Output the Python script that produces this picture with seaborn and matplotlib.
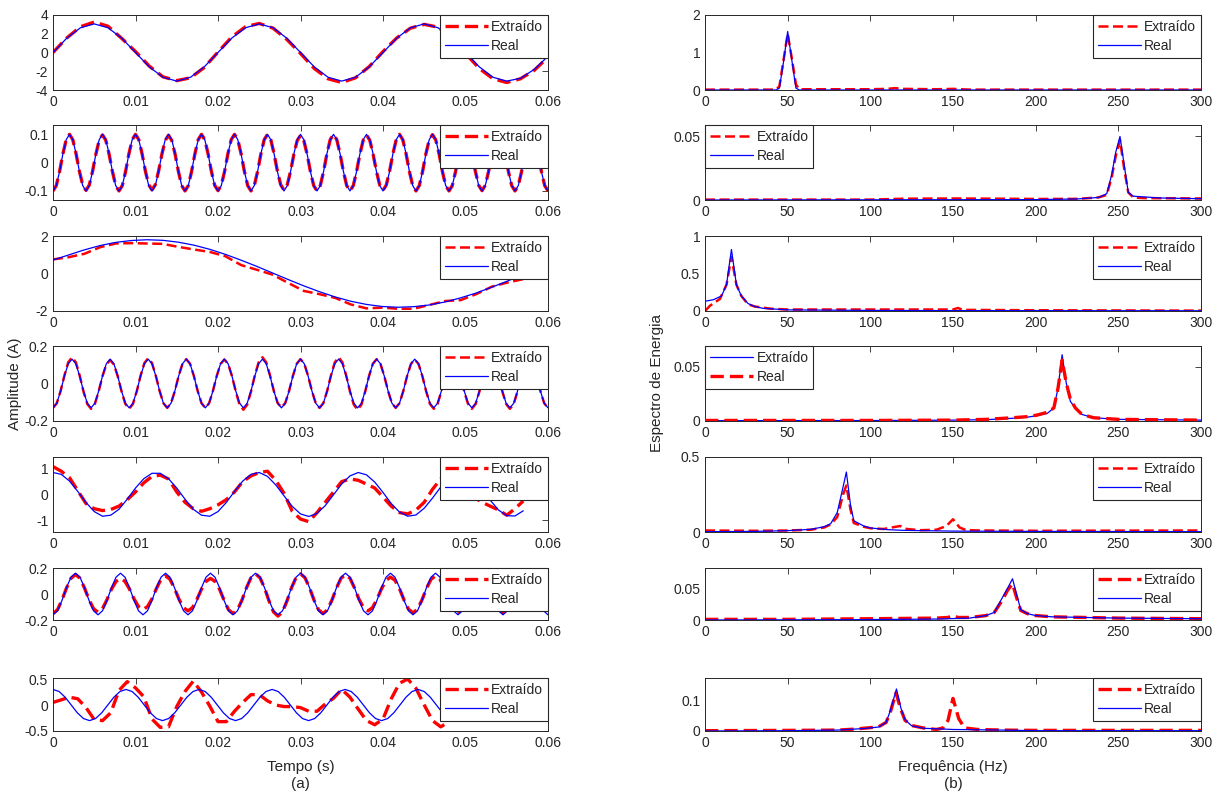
import numpy as np
import matplotlib
matplotlib.use("Agg")
import matplotlib.pyplot as plt
import seaborn as sns

# ===================== DATA =====================
# ---- tick values / labels ----
time_ticks = [0, 0.01, 0.02, 0.03, 0.04, 0.05, 0.06]
time_tick_labels = ["0", "0.01", "0.02", "0.03", "0.04", "0.05", "0.06"]
freq_ticks = [0, 50, 100, 150, 200, 250, 300]
freq_tick_labels = ["0", "50", "100", "150", "200", "250", "300"]

# ---- (a) time signals: sample times and amplitudes (A) ----
t1 = np.linspace(0, 0.06, 37)
ext1 = [0, 1.55, 2.75, 3.25, 2.8, 1.5, 0.1, -1.45, -2.6, -3.0, -2.7, -1.6,
        0.05, 1.65, 2.75, 3.1, 2.6, 1.4, -0.1, -1.7, -2.8, -3.2, -2.7, -1.5,
        0.1, 1.55, 2.6, 3.0, 2.7, 1.5, -0.1, -1.7, -2.8, -3.2, -2.8, -1.9, -0.5]
real1 = [0, 1.53, 2.64, 3.05, 2.64, 1.53, 0, -1.53, -2.64, -3.05, -2.64, -1.53,
         0, 1.53, 2.64, 3.05, 2.64, 1.53, 0, -1.53, -2.64, -3.05, -2.64, -1.53,
         0, 1.53, 2.64, 3.05, 2.64, 1.53, 0, -1.53, -2.64, -3.05, -2.75, -1.8, -0.4]

t2 = np.linspace(0, 0.06, 151)
ext2 = [-0.1, -0.081, -0.031, 0.031, 0.081, 0.1, 0.081, 0.031, -0.030, -0.079,
        -0.098, -0.079, -0.030, 0.030, 0.079, 0.098, 0.079, 0.030, -0.031, -0.081,
        -0.1, -0.081, -0.031, 0.031, 0.081, 0.1, 0.081, 0.031, -0.030, -0.078,
        -0.096, -0.078, -0.030, 0.030, 0.078, 0.097, 0.078, 0.030, -0.031, -0.081,
        -0.1, -0.081, -0.031, 0.031, 0.081, 0.1, 0.081, 0.031, -0.031, -0.080,
        -0.099, -0.080, -0.031, 0.031, 0.081, 0.1, 0.081, 0.031, -0.031, -0.081,
        -0.1, -0.081, -0.031, 0.031, 0.081, 0.1, 0.081, 0.031, -0.030, -0.078,
        -0.097, -0.078, -0.030, 0.030, 0.078, 0.096, 0.078, 0.030, -0.031, -0.081,
        -0.1, -0.081, -0.031, 0.031, 0.081, 0.1, 0.081, 0.031, -0.031, -0.081,
        -0.1, -0.081, -0.031, 0.030, 0.079, 0.098, 0.079, 0.030, -0.030, -0.079,
        -0.098, -0.079, -0.030, 0.031, 0.081, 0.1, 0.081, 0.031, -0.031, -0.081,
        -0.1, -0.081, -0.031, 0.031, 0.080, 0.099, 0.080, 0.031, -0.031, -0.081,
        -0.1, -0.081, -0.031, 0.031, 0.081, 0.1, 0.081, 0.031, -0.031, -0.080,
        -0.099, -0.080, -0.031, 0.031, 0.081, 0.1, 0.081, 0.031, -0.031, -0.081,
        -0.1, -0.081, -0.031, 0.031, 0.081, 0.1, 0.081, 0.031, -0.031, -0.081,
        -0.1]
real2 = [-0.1, -0.081, -0.031, 0.031, 0.081, 0.1, 0.081, 0.031, -0.031, -0.081,
         -0.1, -0.081, -0.031, 0.031, 0.081, 0.1, 0.081, 0.031, -0.031, -0.081,
         -0.1, -0.081, -0.031, 0.031, 0.081, 0.1, 0.081, 0.031, -0.031, -0.081,
         -0.1, -0.081, -0.031, 0.031, 0.081, 0.1, 0.081, 0.031, -0.031, -0.081,
         -0.1, -0.081, -0.031, 0.031, 0.081, 0.1, 0.081, 0.031, -0.031, -0.081,
         -0.1, -0.081, -0.031, 0.031, 0.081, 0.1, 0.081, 0.031, -0.031, -0.081,
         -0.1, -0.081, -0.031, 0.031, 0.081, 0.1, 0.081, 0.031, -0.031, -0.081,
         -0.1, -0.081, -0.031, 0.031, 0.081, 0.1, 0.081, 0.031, -0.031, -0.081,
         -0.1, -0.081, -0.031, 0.031, 0.081, 0.1, 0.081, 0.031, -0.031, -0.081,
         -0.1, -0.081, -0.031, 0.031, 0.081, 0.1, 0.081, 0.031, -0.031, -0.081,
         -0.1, -0.081, -0.031, 0.031, 0.081, 0.1, 0.081, 0.031, -0.031, -0.081,
         -0.1, -0.081, -0.031, 0.031, 0.081, 0.1, 0.081, 0.031, -0.031, -0.081,
         -0.1, -0.081, -0.031, 0.031, 0.081, 0.1, 0.081, 0.031, -0.031, -0.081,
         -0.1, -0.081, -0.031, 0.031, 0.081, 0.1, 0.081, 0.031, -0.031, -0.081,
         -0.1, -0.081, -0.031, 0.031, 0.081, 0.1, 0.081, 0.031, -0.031, -0.081,
         -0.1]

t3 = np.linspace(0, 0.057, 31)
ext3 = [0.75, 0.87, 1.05, 1.4, 1.6, 1.62, 1.6, 1.58, 1.42, 1.28,
        1.15, 0.92, 0.45, 0.2, -0.06, -0.5, -0.93, -1.1, -1.3, -1.65,
        -1.86, -1.82, -1.88, -1.88, -1.68, -1.47, -1.42, -1.1, -0.7, -0.48,
        -0.3]
real3 = [0.72, 0.99, 1.26, 1.49, 1.66, 1.76, 1.80, 1.77, 1.67, 1.51,
         1.29, 1.02, 0.71, 0.38, 0.03, -0.32, -0.66, -0.97, -1.25, -1.48,
         -1.65, -1.76, -1.80, -1.77, -1.68, -1.52, -1.30, -1.04, -0.73, -0.40,
         -0.05]

t4 = np.linspace(0, 0.06, 131)
ext4 = [-0.13, -0.105, -0.040, 0.043, 0.113, 0.14, 0.113, 0.043, -0.042, -0.109,
        -0.135, -0.109, -0.042, 0.039, 0.101, 0.125, 0.101, 0.039, -0.042, -0.109,
        -0.135, -0.109, -0.042, 0.042, 0.109, 0.135, 0.109, 0.042, -0.040, -0.105,
        -0.13, -0.105, -0.040, 0.040, 0.105, 0.13, 0.105, 0.040, -0.040, -0.105,
        -0.13, -0.105, -0.040, 0.040, 0.104, 0.128, 0.104, 0.040, -0.043, -0.113,
        -0.14, -0.113, -0.043, 0.043, 0.113, 0.14, 0.113, 0.043, -0.040, -0.104,
        -0.128, -0.104, -0.040, 0.040, 0.105, 0.13, 0.105, 0.040, -0.040, -0.105,
        -0.13, -0.105, -0.040, 0.043, 0.113, 0.14, 0.113, 0.043, -0.043, -0.113,
        -0.14, -0.113, -0.043, 0.040, 0.105, 0.13, 0.105, 0.040, -0.040, -0.105,
        -0.13, -0.105, -0.040, 0.040, 0.104, 0.128, 0.104, 0.040, -0.042, -0.109,
        -0.135, -0.109, -0.042, 0.040, 0.105, 0.13, 0.105, 0.040, -0.042, -0.109,
        -0.135, -0.109, -0.042, 0.040, 0.105, 0.13, 0.105, 0.040, -0.042, -0.109,
        -0.135, -0.109, -0.042, 0.040, 0.105, 0.13, 0.105, 0.040, -0.040, -0.105,
        -0.13]
real4 = [-0.13, -0.105, -0.04, 0.04, 0.105, 0.13, 0.105, 0.04, -0.04, -0.105,
         -0.13, -0.105, -0.04, 0.04, 0.105, 0.13, 0.105, 0.04, -0.04, -0.105,
         -0.13, -0.105, -0.04, 0.04, 0.105, 0.13, 0.105, 0.04, -0.04, -0.105,
         -0.13, -0.105, -0.04, 0.04, 0.105, 0.13, 0.105, 0.04, -0.04, -0.105,
         -0.13, -0.105, -0.04, 0.04, 0.105, 0.13, 0.105, 0.04, -0.04, -0.105,
         -0.13, -0.105, -0.04, 0.04, 0.105, 0.13, 0.105, 0.04, -0.04, -0.105,
         -0.13, -0.105, -0.04, 0.04, 0.105, 0.13, 0.105, 0.04, -0.04, -0.105,
         -0.13, -0.105, -0.04, 0.04, 0.105, 0.13, 0.105, 0.04, -0.04, -0.105,
         -0.13, -0.105, -0.04, 0.04, 0.105, 0.13, 0.105, 0.04, -0.04, -0.105,
         -0.13, -0.105, -0.04, 0.04, 0.105, 0.13, 0.105, 0.04, -0.04, -0.105,
         -0.13, -0.105, -0.04, 0.04, 0.105, 0.13, 0.105, 0.04, -0.04, -0.105,
         -0.13, -0.105, -0.04, 0.04, 0.105, 0.13, 0.105, 0.04, -0.04, -0.105,
         -0.13, -0.105, -0.04, 0.04, 0.105, 0.13, 0.105, 0.04, -0.04, -0.105,
         -0.13]

t5 = np.linspace(0, 0.057, 58)
ext5 = [1.08, 0.9, 0.65, 0.15, -0.35, -0.55, -0.62, -0.58, -0.45, -0.2,
        0.1, 0.45, 0.7, 0.75, 0.6, 0.1, -0.3, -0.55, -0.65, -0.55,
        -0.4, -0.2, 0.1, 0.5, 0.72, 0.85, 0.9, 0.55, 0.05, -0.65,
        -0.95, -1.05, -0.7, -0.3, 0.1, 0.5, 0.6, 0.55, 0.4, 0.25,
        -0.1, -0.45, -0.7, -0.75, -0.6, -0.3, 0.2, 0.6, 0.8, 0.7,
        0.3, -0.1, -0.3, -0.45, -0.6, -0.8, -0.55, -0.25]
real5 = [0.85, 0.78, 0.52, 0.12, -0.31, -0.66, -0.84, -0.80, -0.57, -0.18,
         0.25, 0.61, 0.82, 0.82, 0.61, 0.25, -0.18, -0.57, -0.80, -0.84,
         -0.66, -0.31, 0.12, 0.52, 0.78, 0.85, 0.70, 0.37, -0.05, -0.46,
         -0.75, -0.85, -0.73, -0.43, -0.01, 0.41, 0.72, 0.85, 0.76, 0.48,
         0.08, -0.35, -0.68, -0.84, -0.79, -0.53, -0.14, 0.29, 0.64, 0.83,
         0.81, 0.58, 0.21, -0.22, -0.60, -0.82, -0.83, -0.63]

t6 = np.linspace(0, 0.06, 111)
ext6 = [-0.15, -0.121, -0.046, 0.046, 0.121, 0.15, 0.121, 0.046, -0.043, -0.113,
        -0.14, -0.113, -0.043, 0.037, 0.097, 0.12, 0.097, 0.037, -0.037, -0.097,
        -0.12, -0.097, -0.037, 0.043, 0.113, 0.14, 0.113, 0.043, -0.040, -0.105,
        -0.13, -0.105, -0.040, 0.037, 0.097, 0.12, 0.097, 0.037, -0.046, -0.121,
        -0.15, -0.121, -0.046, 0.048, 0.125, 0.155, 0.125, 0.048, -0.053, -0.138,
        -0.17, -0.138, -0.053, 0.048, 0.125, 0.155, 0.125, 0.048, -0.046, -0.121,
        -0.15, -0.121, -0.046, 0.046, 0.121, 0.15, 0.121, 0.046, -0.040, -0.105,
        -0.13, -0.105, -0.040, 0.040, 0.105, 0.13, 0.105, 0.040, -0.045, -0.117,
        -0.145, -0.117, -0.045, 0.043, 0.113, 0.14, 0.113, 0.043, -0.043, -0.113,
        -0.14, -0.113, -0.043, 0.043, 0.113, 0.14, 0.113, 0.043, -0.045, -0.117,
        -0.145, -0.117, -0.045, 0.043, 0.113, 0.14, 0.113, 0.043, -0.040, -0.105,
        -0.13]
real6 = [-0.16, -0.129, -0.049, 0.049, 0.129, 0.16, 0.129, 0.049, -0.049, -0.129,
         -0.16, -0.129, -0.049, 0.049, 0.129, 0.16, 0.129, 0.049, -0.049, -0.129,
         -0.16, -0.129, -0.049, 0.049, 0.129, 0.16, 0.129, 0.049, -0.049, -0.129,
         -0.16, -0.129, -0.049, 0.049, 0.129, 0.16, 0.129, 0.049, -0.049, -0.129,
         -0.16, -0.129, -0.049, 0.049, 0.129, 0.16, 0.129, 0.049, -0.049, -0.129,
         -0.16, -0.129, -0.049, 0.049, 0.129, 0.16, 0.129, 0.049, -0.049, -0.129,
         -0.16, -0.129, -0.049, 0.049, 0.129, 0.16, 0.129, 0.049, -0.049, -0.129,
         -0.16, -0.129, -0.049, 0.049, 0.129, 0.16, 0.129, 0.049, -0.049, -0.129,
         -0.16, -0.129, -0.049, 0.049, 0.129, 0.16, 0.129, 0.049, -0.049, -0.129,
         -0.16, -0.129, -0.049, 0.049, 0.129, 0.16, 0.129, 0.049, -0.049, -0.129,
         -0.16, -0.129, -0.049, 0.049, 0.129, 0.16, 0.129, 0.049, -0.049, -0.129,
         -0.16]

t7_ext = np.linspace(0, 0.057, 58)
ext7 = [0.05, 0.1, 0.15, 0.12, -0.05, -0.28, -0.3, -0.15, 0.28, 0.45,
        0.33, 0.16, -0.27, -0.43, -0.42, -0.03, 0.26, 0.46, 0.25, -0.02,
        -0.32, -0.32, -0.12, 0.05, 0.2, 0.2, 0.08, 0.0, -0.03, -0.03,
        -0.05, -0.12, -0.12, 0.02, 0.13, 0.3, 0.15, -0.08, -0.3, -0.38,
        -0.27, 0.12, 0.42, 0.5, 0.32, 0.0, -0.3, -0.42, -0.32, 0.0,
        0.3, 0.4, 0.2, -0.1, -0.2, -0.2, -0.05, 0.1]
t7_real = np.linspace(0, 0.0568, 78)
real7 = [0.3, 0.26, 0.15, 0, -0.15, -0.26, -0.3, -0.26, -0.15, 0, 0.15, 0.26,
         0.3, 0.26, 0.15, 0, -0.15, -0.26, -0.3, -0.26, -0.15, 0, 0.15, 0.26,
         0.3, 0.26, 0.15, 0, -0.15, -0.26, -0.3, -0.26, -0.15, 0, 0.15, 0.26,
         0.3, 0.26, 0.15, 0, -0.15, -0.26, -0.3, -0.26, -0.15, 0, 0.15, 0.26,
         0.3, 0.26, 0.15, 0, -0.15, -0.26, -0.3, -0.26, -0.15, 0, 0.15, 0.26,
         0.3, 0.26, 0.15, 0, -0.15, -0.26, -0.3, -0.26, -0.15, 0, 0.15, 0.26,
         0.3, 0.26, 0.15, 0, -0.15, -0.26]

# ---- (b) energy spectra: frequency (Hz) and energy ----
f1_ext = [0, 43, 45, 47.5, 50, 52.5, 55, 57, 80, 100, 110, 115, 120, 140, 150, 160, 300]
e1_ext = [0.01, 0.01, 0.1, 0.8, 1.5, 0.85, 0.15, 0.02, 0.02, 0.02, 0.03, 0.05, 0.03, 0.02, 0.03, 0.01, 0.01]
f1_real = [0, 43, 45, 47.5, 50, 52.5, 55, 57, 300]
e1_real = [0, 0, 0.05, 0.75, 1.56, 0.8, 0.05, 0, 0]

f2_ext = [0, 100, 120, 150, 180, 200, 225, 238, 243, 246, 248.5, 251, 253.5, 256, 259, 265, 275, 300]
e2_ext = [0.0003, 0.0003, 0.001, 0.0012, 0.001, 0.0008, 0.0009, 0.002, 0.004, 0.018, 0.035, 0.047, 0.025, 0.006, 0.002, 0.0015, 0.0014, 0.0012]
f2_real = [0, 200, 225, 238, 243, 246, 248.5, 251, 253.5, 256, 259, 275, 300]
e2_real = [0, 0.0003, 0.0008, 0.002, 0.005, 0.02, 0.038, 0.05, 0.028, 0.006, 0.003, 0.0016, 0.001]

f3_ext = [0, 3, 9, 13, 16, 19, 22, 26, 30, 40, 50, 100, 150, 153, 156, 200, 300]
e3_ext = [0, 0.07, 0.16, 0.35, 0.72, 0.35, 0.2, 0.09, 0.06, 0.03, 0.02, 0.02, 0.02, 0.04, 0.015, 0.01, 0.005]
f3_real = [0, 5, 10, 13, 16, 19, 22, 26, 30, 35, 50, 100, 150, 300]
e3_real = [0.13, 0.15, 0.2, 0.35, 0.82, 0.35, 0.2, 0.1, 0.06, 0.036, 0.015, 0.008, 0.005, 0.003]

# panel 4: solid blue is labelled "Extraído", dashed red "Real" (as in the source)
f4_blue = [0, 100, 150, 170, 186, 195, 201, 207, 211, 213.5, 216, 218.5, 221, 224, 228, 235, 250, 300]
e4_blue = [0.0003, 0.0004, 0.0008, 0.0012, 0.0025, 0.0035, 0.005, 0.007, 0.012, 0.03, 0.061, 0.035, 0.018, 0.012, 0.006, 0.003, 0.0015, 0.0008]
f4_red = [0, 100, 150, 170, 186, 195, 201, 207, 211, 213.5, 216, 218.5, 221, 224, 228, 235, 250, 300]
e4_red = [0.0005, 0.0005, 0.0008, 0.0015, 0.003, 0.004, 0.0055, 0.008, 0.012, 0.03, 0.056, 0.035, 0.02, 0.012, 0.006, 0.003, 0.0015, 0.0008]

f5_ext = [0, 30, 50, 64, 72, 76, 80, 83.5, 85.5, 88, 90, 96, 100, 108, 113, 118, 122, 130, 140, 146, 150, 154, 158, 170, 200, 300]
e5_ext = [0.01, 0.008, 0.01, 0.015, 0.03, 0.05, 0.1, 0.25, 0.31, 0.15, 0.06, 0.035, 0.025, 0.02, 0.03, 0.04, 0.02, 0.012, 0.015, 0.04, 0.085, 0.03, 0.012, 0.01, 0.008, 0.01]
f5_real = [0, 30, 50, 64, 72, 76, 80, 83.5, 85.5, 88, 90, 96, 100, 110, 120, 150, 200, 300]
e5_real = [0.002, 0.004, 0.009, 0.018, 0.035, 0.055, 0.13, 0.3, 0.40, 0.18, 0.075, 0.04, 0.027, 0.016, 0.011, 0.006, 0.004, 0.002]

f6_ext = [0, 50, 100, 140, 147, 150, 153, 160, 170, 175, 180, 183, 186, 188.5, 191, 195, 200, 210, 250, 300]
e6_ext = [0.001, 0.001, 0.002, 0.003, 0.004, 0.007, 0.004, 0.004, 0.007, 0.012, 0.032, 0.047, 0.057, 0.035, 0.015, 0.01, 0.007, 0.005, 0.003, 0.002]
f6_real = [0, 90, 140, 160, 170, 175, 180, 183, 186, 188.5, 191, 195, 200, 210, 250, 300]
e6_real = [0, 0.0005, 0.0015, 0.003, 0.007, 0.012, 0.036, 0.05, 0.065, 0.04, 0.016, 0.01, 0.007, 0.005, 0.003, 0.002]

f7_ext = [0, 50, 80, 90, 100, 105, 109.5, 112, 115.5, 118.5, 121, 125, 132, 140, 144, 147, 150, 153.5, 157, 165, 180, 200, 300]
e7_ext = [0.001, 0.002, 0.003, 0.006, 0.011, 0.014, 0.028, 0.06, 0.125, 0.07, 0.035, 0.018, 0.01, 0.005, 0.01, 0.035, 0.107, 0.04, 0.01, 0.005, 0.003, 0.002, 0.002]
f7_real = [0, 50, 80, 96, 105, 109.5, 112, 115.8, 118.5, 121, 125, 132, 150, 180, 200, 300]
e7_real = [0, 0.001, 0.003, 0.008, 0.013, 0.028, 0.065, 0.138, 0.075, 0.037, 0.017, 0.009, 0.005, 0.003, 0.001, 0.001]

# y axis settings per panel
left_ylims = [(-4, 4), (-0.132, 0.133), (-2, 2), (-0.2, 0.2), (-1.45, 1.45), (-0.2, 0.2), (-0.5, 0.52)]
left_yticks = [[-4, -2, 0, 2, 4], [-0.1, 0, 0.1], [-2, 0, 2], [-0.2, 0, 0.2], [-1, 0, 1], [-0.2, 0, 0.2], [-0.5, 0, 0.5]]
left_yticklabels = [["-4", "-2", "0", "2", "4"], ["-0.1", "0", "0.1"], ["-2", "0", "2"], ["-0.2", "0", "0.2"],
                    ["-1", "0", "1"], ["-0.2", "0", "0.2"], ["-0.5", "0", "0.5"]]
right_ylims = [(0, 2), (0, 0.059), (0, 1), (0, 0.069), (0, 0.5), (0, 0.082), (0, 0.174)]
right_yticks = [[0, 1, 2], [0, 0.05], [0, 0.5, 1], [0, 0.05], [0, 0.5], [0, 0.05], [0, 0.1]]
right_yticklabels = [["0", "1", "2"], ["0", "0.05"], ["0", "0.5", "1"], ["0", "0.05"], ["0", "0.5"], ["0", "0.05"], ["0", "0.1"]]

# ===================== STYLE / LAYOUT =====================
sns.set_theme(style="white")
plt.rcParams['font.family'] = ['Liberation Sans', 'DejaVu Sans']
plt.rcParams['font.size'] = 10

W, H = 1222, 794
fig = plt.figure(figsize=(W / 100, H / 100), dpi=100)
fig.patch.set_facecolor('white')
AXC = '#262626'
RED = '#ff0000'
BLUE = '#0000ff'
DASH = (0, (4, 1.8))

rows = [(15, 90), (125, 200), (236, 311), (346, 421), (457, 532), (568, 620), (678, 731)]
LX = (53, 548)
RX = (705, 1201)


def add_ax(x0, x1, ytop, ybot):
    return fig.add_axes([x0 / W, 1 - ybot / H, (x1 - x0) / W, (ybot - ytop) / H])


def style_ax(ax, xlim, xticks, xlabels, ylim, yticks, ylabels):
    ax.set_xlim(xlim)
    ax.set_ylim(ylim)
    ax.set_xticks(xticks, xlabels)
    ax.set_yticks(yticks, ylabels)
    ax.tick_params(direction='in', top=True, right=True, length=4, width=0.6,
                   pad=3.5, colors=AXC, labelsize=10)
    for s in ax.spines.values():
        s.set_visible(True)
        s.set_color(AXC)
        s.set_linewidth(0.7)
    ax.set_facecolor('white')


def line(ax, x, y, color, lw, dashed, label, z):
    assert len(x) == len(y), (label, len(x), len(y))
    sns.lineplot(x=np.asarray(x, float), y=np.asarray(y, float), ax=ax, color=color,
                 linewidth=lw, linestyle=DASH if dashed else '-', label=label,
                 estimator=None, sort=False, legend=False, zorder=z)


def legend(ax, loc):
    leg = ax.legend(loc=loc, borderaxespad=0, fancybox=False, framealpha=1,
                    edgecolor=AXC, fontsize=10, handlelength=3.1, handletextpad=0.25,
                    borderpad=0.35, labelspacing=0.35)
    leg.get_frame().set_linewidth(0.8)
    leg.set_zorder(10)


left_data = [(t1, ext1, t1, real1, 2.4), (t2, ext2, t2, real2, 2.4), (t3, ext3, t3, real3, 1.8),
             (t4, ext4, t4, real4, 1.8), (t5, ext5, t5, real5, 2.4), (t6, ext6, t6, real6, 2.4),
             (t7_ext, ext7, t7_real, real7, 2.4)]

for i, (te, ye, tr, yr, lw) in enumerate(left_data):
    ax = add_ax(LX[0], LX[1], rows[i][0], rows[i][1])
    line(ax, te, ye, RED, lw, True, "Extraído", 2)
    line(ax, tr, yr, BLUE, 0.9, False, "Real", 3)
    style_ax(ax, (0, 0.06), time_ticks, time_tick_labels,
             left_ylims[i], left_yticks[i], left_yticklabels[i])
    legend(ax, 'upper right')
    if i == 3:
        ax.set_ylabel("Amplitude (A)", fontsize=11, color=AXC)
        ax.yaxis.set_label_coords(-0.063, 0.5)
    if i == 6:
        ax.set_xlabel("Tempo (s)\n(a)", fontsize=11, color=AXC, labelpad=7,
                      linespacing=1.35)

right_data = [(f1_ext, e1_ext, f1_real, e1_real, 1.8, 'upper right'),
              (f2_ext, e2_ext, f2_real, e2_real, 1.8, 'upper left'),
              (f3_ext, e3_ext, f3_real, e3_real, 1.8, 'upper right'),
              None,
              (f5_ext, e5_ext, f5_real, e5_real, 1.8, 'upper right'),
              (f6_ext, e6_ext, f6_real, e6_real, 2.4, 'upper right'),
              (f7_ext, e7_ext, f7_real, e7_real, 2.4, 'upper right')]

for i in range(7):
    ax = add_ax(RX[0], RX[1], rows[i][0], rows[i][1])
    if i == 3:
        line(ax, f4_blue, e4_blue, BLUE, 0.9, False, "Extraído", 2)
        line(ax, f4_red, e4_red, RED, 2.4, True, "Real", 3)
        loc = 'upper left'
    else:
        fe, ee, fr, er, lw, loc = right_data[i]
        line(ax, fe, ee, RED, lw, True, "Extraído", 2)
        line(ax, fr, er, BLUE, 0.9, False, "Real", 3)
    style_ax(ax, (0, 300), freq_ticks, freq_tick_labels,
             right_ylims[i], right_yticks[i], right_yticklabels[i])
    legend(ax, loc)
    if i == 3:
        ax.set_ylabel("Espectro de Energia", fontsize=11, color=AXC)
        ax.yaxis.set_label_coords(-0.083, 0.5)
    if i == 6:
        ax.set_xlabel("Frequência (Hz)\n(b)", fontsize=11, color=AXC, labelpad=7,
                      linespacing=1.35)

fig.savefig("out.png", dpi=100, facecolor='white')
